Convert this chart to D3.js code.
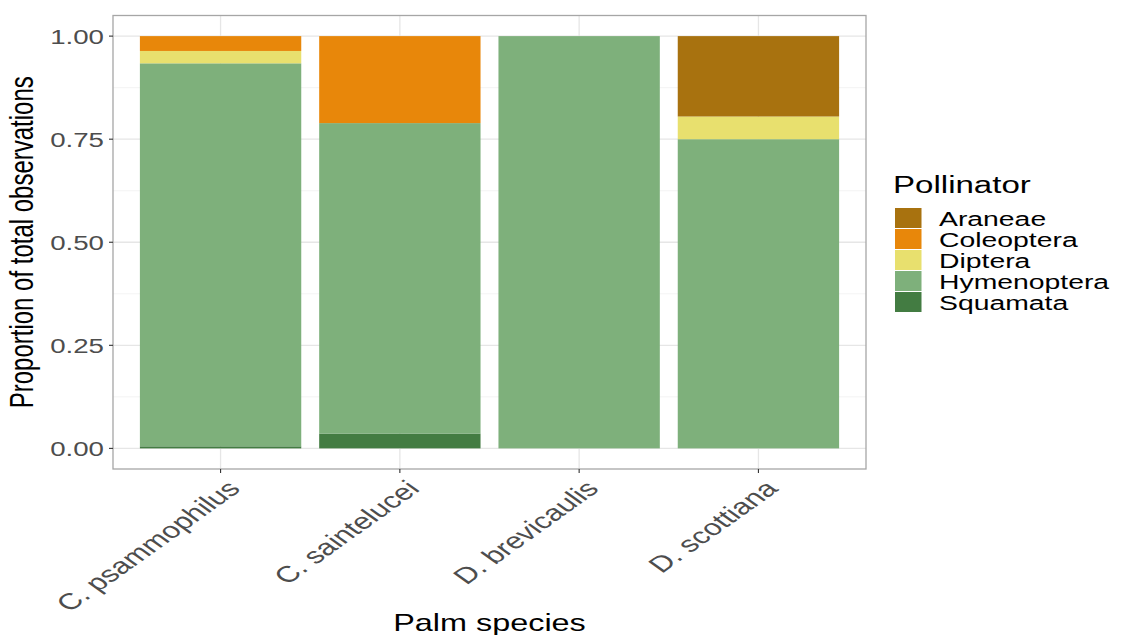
<!DOCTYPE html>
<html>
<head>
<meta charset="utf-8">
<script src="https://cdn.jsdelivr.net/npm/d3@7"></script>
<style>
  html, body { margin: 0; padding: 0; background: #fff; }
  svg { display: block; font-family: "Liberation Sans", Arial, Helvetica, sans-serif; }
</style>
</head>
<body>
<svg id="chart" width="1123" height="635"></svg>
<script>
// ---------- data ----------
const species = ["C. psammophilus", "C. saintelucei", "D. brevicaulis", "D. scottiana"];
const pollinators = ["Araneae", "Coleoptera", "Diptera", "Hymenoptera", "Squamata"];
const araneae     = [0.000, 0.000, 0.000, 0.195];
const coleoptera  = [0.036, 0.211, 0.000, 0.000];
const diptera     = [0.030, 0.000, 0.000, 0.055];
const hymenoptera = [0.929, 0.753, 1.000, 0.750];
const squamata    = [0.005, 0.036, 0.000, 0.000];
const yTicks = [0, 0.25, 0.5, 0.75, 1.0];
const yTickLabels = ["0.00", "0.25", "0.50", "0.75", "1.00"];
const yMinor = [0.125, 0.375, 0.625, 0.875];
const colors = ["#A8720F", "#E8870A", "#E8E06E", "#7EB07B", "#437C42"];

const seriesByKey = { Araneae: araneae, Coleoptera: coleoptera, Diptera: diptera, Hymenoptera: hymenoptera, Squamata: squamata };
const rows = species.map((s, i) => {
  const r = { species: s };
  pollinators.forEach(p => r[p] = seriesByKey[p][i]);
  return r;
});

// ---------- layout ----------
const SX = 1.35; // horizontal stretch of text
const panel = { left: 113, right: 866, top: 15.5, bottom: 469 };
const svg = d3.select("#chart");

const x = d3.scaleBand().domain(species).range([panel.left, panel.right]).paddingInner(0.1).paddingOuter(0.15);
const y = d3.scaleLinear().domain([-0.05, 1.05]).range([panel.bottom, panel.top]);
const color = d3.scaleOrdinal().domain(pollinators).range(colors);

// grid
const g = svg.append("g");
g.selectAll(".minor").data(yMinor).join("line")
  .attr("x1", panel.left).attr("x2", panel.right)
  .attr("y1", d => y(d)).attr("y2", d => y(d))
  .attr("stroke", "#F0F0F0").attr("stroke-width", 0.8);
g.selectAll(".major").data(yTicks).join("line")
  .attr("x1", panel.left).attr("x2", panel.right)
  .attr("y1", d => y(d)).attr("y2", d => y(d))
  .attr("stroke", "#E6E6E6").attr("stroke-width", 1.3);
g.selectAll(".vmajor").data(species).join("line")
  .attr("x1", d => x(d) + x.bandwidth() / 2).attr("x2", d => x(d) + x.bandwidth() / 2)
  .attr("y1", panel.top).attr("y2", panel.bottom)
  .attr("stroke", "#E6E6E6").attr("stroke-width", 1.3);

// bars
const stack = d3.stack().keys(pollinators.slice().reverse());
const stacked = stack(rows);
svg.append("g").selectAll("g").data(stacked).join("g")
  .attr("fill", d => color(d.key))
  .selectAll("rect").data(d => d.filter(v => v[1] - v[0] > 0)).join("rect")
  .attr("x", d => x(d.data.species))
  .attr("width", x.bandwidth())
  .attr("y", d => y(d[1]))
  .attr("height", d => y(d[0]) - y(d[1]));

// panel border
svg.append("rect")
  .attr("x", panel.left).attr("y", panel.top)
  .attr("width", panel.right - panel.left).attr("height", panel.bottom - panel.top)
  .attr("fill", "none").attr("stroke", "#A6A6A6").attr("stroke-width", 1.3);

// y axis ticks + labels
svg.selectAll(".yt").data(yTicks).join("line")
  .attr("x1", panel.left - 4).attr("x2", panel.left)
  .attr("y1", d => y(d)).attr("y2", d => y(d))
  .attr("stroke", "#333").attr("stroke-width", 1.1);
svg.selectAll(".ytl").data(yTicks).join("text")
  .attr("transform", d => `translate(${panel.left - 9},${y(d)}) scale(${SX},1)`)
  .attr("text-anchor", "end").attr("dy", "0.36em")
  .attr("font-size", 20.5).attr("fill", "#4D4D4D")
  .text((d, i) => yTickLabels[i]);

// x axis ticks + labels
svg.selectAll(".xt").data(species).join("line")
  .attr("x1", d => x(d) + x.bandwidth() / 2).attr("x2", d => x(d) + x.bandwidth() / 2)
  .attr("y1", panel.bottom).attr("y2", panel.bottom + 4)
  .attr("stroke", "#333").attr("stroke-width", 1.1);
svg.selectAll(".xtl").data(species).join("text")
  .attr("transform", d => `translate(${x(d) + x.bandwidth() / 2 + 21},${490}) scale(1.4,1) rotate(-45)`)
  .attr("text-anchor", "end")
  .attr("font-size", 22.5).attr("fill", "#4D4D4D")
  .text(d => d);

// axis titles
svg.append("text")
  .attr("transform", `translate(${(panel.left + panel.right) / 2},631) scale(${SX},1)`)
  .attr("text-anchor", "middle").attr("font-size", 24).attr("fill", "#000")
  .text("Palm species");
svg.append("text")
  .attr("transform", `translate(33,${(panel.top + panel.bottom) / 2}) scale(${SX},1) rotate(-90)`)
  .attr("text-anchor", "middle").attr("font-size", 24).attr("fill", "#000")
  .text("Proportion of total observations");

// legend
const lg = svg.append("g");
lg.append("text")
  .attr("transform", `translate(893,193) scale(${SX},1)`)
  .attr("font-size", 24.5).attr("fill", "#000")
  .text("Pollinator");
const items = lg.selectAll(".item").data(pollinators).join("g")
  .attr("transform", (d, i) => `translate(895,${208 + i * 21})`);
items.append("rect")
  .attr("width", 26.5).attr("height", 20)
  .attr("fill", d => color(d));
items.append("text")
  .attr("transform", `translate(44,10.5) scale(${SX},1)`)
  .attr("dy", "0.36em")
  .attr("font-size", 21).attr("fill", "#000")
  .text(d => d);
</script>
</body>
</html>
